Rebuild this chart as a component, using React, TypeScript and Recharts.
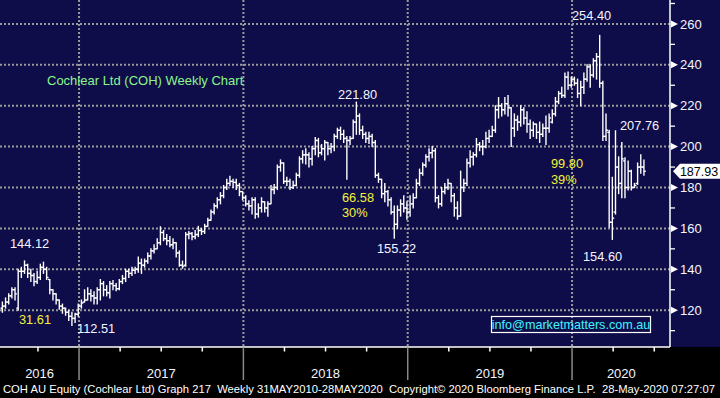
import React from 'react';
import { ComposedChart, Bar, XAxis, YAxis, CartesianGrid } from 'recharts';

// Weekly bars, first bar date (decimal year), one bar per week
const firstWeek = 2016.531;
const weeksPerYear = 52;

const opens = [
  121, 122, 124, 127, 130, 121, 139, 139, 142, 138,
  137, 134, 136, 141, 140, 135, 130, 128, 125, 122,
  121, 119, 117, 116, 118, 122, 124, 125, 128, 127,
  126, 130, 133, 130, 128.5, 133, 132, 130.5, 134, 135.5,
  139, 138, 139.5, 140, 143, 142, 144, 146.5, 149, 150,
  153, 158, 155, 154, 152, 153, 148, 142, 142, 157,
  157.5, 156, 157, 159, 158.5, 161, 164, 168, 171, 174,
  176, 180, 182, 183, 182.5, 181, 178, 175, 172, 171,
  174, 167, 170, 173, 170, 172, 179, 180, 190, 192,
  183, 183, 180, 181, 186, 194, 196, 196, 194, 199,
  203, 197, 199, 202, 199, 200, 205, 208, 206, 204,
  203, 204, 212, 215, 208, 206, 204, 205, 202, 186,
  184, 177, 178, 174, 168, 162, 169, 172, 170, 168,
  172, 175, 182, 187, 191, 195, 197, 198, 175, 172,
  178, 180, 182, 176, 170, 166, 180, 182, 192, 195,
  196, 201, 200, 200, 204, 205, 208, 218, 220, 218,
  221, 219, 209, 213, 212, 218, 214, 211, 208, 211,
  207, 206, 209, 209, 212, 216, 222, 226, 225, 234,
  230, 233, 231, 226, 229, 233, 239, 235, 242, 244,
  231, 205, 207, 163, 168, 190, 182, 193, 180, 188,
  180, 182, 190, 190,
];
const highs = [
  124, 126, 128, 131, 131, 140, 141, 144.12, 142.5, 140,
  138, 139, 142.5, 143.5, 141, 135, 130, 128, 125, 123,
  121, 120, 119, 118.5, 123, 125, 130, 131, 130, 129,
  131, 135, 134, 132, 134, 134.5, 133, 135, 137, 140,
  140, 141, 141, 146, 145, 145, 148, 150, 152, 155,
  160.8, 159, 157, 156, 155, 153, 149, 144, 158, 158.5,
  158, 159, 161, 160, 162, 165, 169, 172, 175, 177.5,
  181, 184, 185.5, 184, 184, 182, 178, 176, 173.5, 175,
  175, 172, 175, 173, 173, 181, 181.5, 191, 193.5, 192,
  185, 184, 183, 187, 195, 198, 199, 197, 200, 204.5,
  204, 201, 203, 202, 201.5, 206, 209, 209.5, 208, 205,
  205, 213, 221.8, 216, 210, 207, 207, 206, 203, 187,
  184, 182, 178.5, 175, 171, 171, 174, 176, 173, 176,
  177, 184, 189, 192, 196, 199, 200, 199, 176, 180,
  182, 184, 182, 177, 173, 188, 184, 194, 198, 197,
  204, 202, 203, 207, 208, 210, 220, 224, 221, 224,
  225, 219, 216, 215, 220, 219, 217, 213, 212, 211,
  212, 211, 215, 216, 218, 224, 227, 229, 236, 236.5,
  234, 234, 233, 232, 236, 240, 240, 243, 245.5, 254.4,
  232, 216, 208, 185, 207.76, 195, 202, 194.5, 193, 188.5,
  182, 192, 196, 193.5,
];
const lows = [
  119, 121, 123, 126, 125, 120, 136, 138, 136, 134,
  132, 133, 135, 138, 135, 128, 125, 123, 120.5, 118.5,
  117.5, 115, 112.51, 114, 117, 121, 124, 125, 124.5, 123,
  123, 125, 127, 127, 126, 130, 129.5, 130, 133, 134,
  136, 137, 138, 138.5, 138, 141, 143, 145, 148, 150,
  152, 154, 152, 151, 150, 146, 141.5, 140.5, 141.5, 155,
  154.5, 155, 156, 157, 157.5, 161, 164, 167, 170, 172,
  175, 179, 181, 180, 179, 176, 174, 171, 169, 167,
  165, 165.5, 168, 168, 166, 172, 177, 179, 188, 182,
  181, 179, 179.5, 181, 185, 192, 191.5, 190, 191, 196,
  195, 196, 193.5, 196, 197, 198, 204, 203.5, 202, 184,
  201, 204, 206, 206, 204, 202, 201.5, 200, 185, 182.5,
  175, 173, 171, 167, 155.22, 160, 166, 168, 164.5, 166,
  170, 175, 181, 186, 190, 193, 194.5, 173, 170, 171,
  177, 179, 173, 166, 164.5, 166, 178, 181, 190, 191,
  195, 198, 196, 199.5, 202, 205, 207, 214, 215, 216,
  215, 200, 205, 208, 210, 211, 207, 204, 205, 204,
  202, 205, 201, 207, 211.5, 215, 221, 224, 224, 228,
  229, 230, 224, 220, 226, 232, 229, 234, 233, 229,
  203, 203, 160.6, 154.6, 167, 177, 175, 175, 178.8, 178.8,
  180, 181.5, 187, 186,
];
const closes = [
  122, 124, 127, 130, 128, 139, 139, 142, 138, 137,
  134, 136, 141, 140, 136, 130, 128, 125, 122, 121,
  119, 117, 116, 118, 122, 123.5, 125, 128, 127, 126,
  130, 133, 130, 128.5, 133, 132, 130.5, 134, 135.5, 139,
  138, 139.5, 140, 143, 142, 144, 146.5, 149, 150, 153,
  158, 155, 154, 152, 153, 148, 142, 141.5, 157, 157.5,
  156, 157, 159, 158.5, 161, 164, 168, 171, 174, 176,
  180, 182, 183, 182.5, 181, 178, 175, 172, 171, 174,
  167, 170, 173, 170, 172, 179, 180, 190, 192, 183,
  183, 180, 181, 186, 194, 196, 196, 194, 199, 203,
  197, 199, 202, 199, 200, 205, 208, 206, 204, 203,
  204, 212, 215, 208, 206, 204, 205, 202, 186, 184,
  177, 178, 174, 168, 162, 169, 172, 170, 168, 172,
  175, 182, 187, 191, 195, 197, 198, 175, 172, 178,
  180, 182, 176, 170, 166, 180, 182, 192, 195, 196,
  201, 200, 200, 204, 205, 208, 218, 220, 218, 221,
  219, 209, 213, 212, 218, 214, 211, 208, 211, 207,
  206, 209, 209, 214, 216, 222, 226, 225, 234, 230,
  233, 231, 226, 229, 233, 239, 235, 242, 244, 231,
  205, 208, 163, 165, 190, 182, 194, 180, 188, 180,
  181, 190, 190, 187.93,
];

const xDomain = [2016.519, 2020.596];
const yDomain = [102, 271.7];
const yearStarts = [2017, 2018, 2019, 2020];
const quarterTicks = [
  2016.75, 2017, 2017.25, 2017.5, 2017.75, 2018, 2018.25, 2018.5, 2018.75,
  2019, 2019.25, 2019.5, 2019.75, 2020, 2020.25, 2020.5,
];
const yearLabels = ['2016', '2017', '2018', '2019', '2020'];
const yearLabelAt = [2016.76, 2017.5, 2018.5, 2019.5, 2020.3];
const priceGrid = [120, 140, 160, 180, 200, 220, 240, 260];
const priceTicks = [110, 120, 130, 140, 150, 160, 170, 180, 190, 200, 210, 220, 230, 240, 250, 260, 270];
const lastPrice = 187.93;

const data = closes.map((c, i) => ({
  t: firstWeek + i / weeksPerYear,
  o: opens[i],
  h: highs[i],
  l: lows[i],
  c,
}));

const xTicks = Array.from(new Set([...quarterTicks, ...yearLabelAt])).sort((a, b) => a - b);

const FONT = '"Liberation Sans", Arial, sans-serif';
const WHITE = '#f4f6ff';
const YELLOW = '#f2f23a';

const OhlcShape = (props: any) => {
  const { x, y, width, height, payload } = props;
  if (!payload) return null;
  const { o, h, l, c } = payload;
  const cx = x + width / 2;
  const top = Math.min(y, y + height);
  const span = Math.abs(height);
  const k = h - l > 0 ? span / (h - l) : 0;
  const yo = top + (h - o) * k;
  const yc = top + (h - c) * k;
  return (
    <g stroke="#ffffff" strokeWidth={1.4}>
      <line x1={cx} x2={cx} y1={top - 0.5} y2={top + span + 0.5} />
      <line x1={cx - 1.9} x2={cx} y1={yo} y2={yo} />
      <line x1={cx} x2={cx + 1.9} y1={yc} y2={yc} />
    </g>
  );
};

const XTick = (props: any) => {
  const { x, y, payload } = props;
  const v = payload.value;
  const li = yearLabelAt.indexOf(v);
  const isStart = yearStarts.includes(v);
  const isQuarter = quarterTicks.includes(v);
  return (
    <g>
      {isStart ? (
        <line x1={x} x2={x} y1={y} y2={y + 33} stroke="#8a8a8a" strokeWidth={1.5} />
      ) : isQuarter ? (
        <line x1={x} x2={x} y1={y} y2={y + 4.5} stroke="#ffffff" strokeWidth={1.5} />
      ) : null}
      {li >= 0 ? (
        <text x={x} y={y + 31} textAnchor="middle" fill={WHITE} fontSize={13} fontFamily={FONT}>
          {yearLabels[li]}
        </text>
      ) : null}
    </g>
  );
};

const YTick = (props: any) => {
  const { x, y, payload } = props;
  const v = payload.value;
  if (v === lastPrice) {
    return (
      <g>
        <polygon
          points={`${x + 3},${y} ${x + 10},${y - 7.5} ${x + 50},${y - 7.5} ${x + 50},${y + 7.5} ${x + 10},${y + 7.5}`}
          fill="#ffffff"
        />
        <text x={x + 29} y={y + 4.5} textAnchor="middle" fill="#000000" fontSize={12.5} fontFamily={FONT}>
          {v.toFixed(2)}
        </text>
      </g>
    );
  }
  if (v % 20 === 0) {
    return (
      <g>
        <polygon points={`${x + 1},${y - 3.5} ${x + 8},${y} ${x + 1},${y + 3.5}`} fill="#ffffff" />
        <text x={x + 10} y={y + 4.6} fill={WHITE} fontSize={13} fontFamily={FONT}>
          {v}
        </text>
      </g>
    );
  }
  return <line x1={x} x2={x + 5} y1={y} y2={y} stroke="#ffffff" strokeWidth={1.3} />;
};

const notes = [
  { text: '144.12', x: 10, y: 247.5, color: WHITE },
  { text: '31.61', x: 19, y: 324, color: YELLOW },
  { text: '112.51', x: 77, y: 333, color: WHITE },
  { text: '221.80', x: 338, y: 99, color: WHITE },
  { text: '66.58', x: 342, y: 201.5, color: YELLOW },
  { text: '30%', x: 342, y: 217, color: YELLOW },
  { text: '155.22', x: 377, y: 252.5, color: WHITE },
  { text: '254.40', x: 572, y: 19.5, color: WHITE },
  { text: '207.76', x: 620, y: 129.5, color: WHITE },
  { text: '99.80', x: 551, y: 168, color: YELLOW },
  { text: '39%', x: 551, y: 184, color: YELLOW },
  { text: '154.60', x: 583, y: 261, color: WHITE },
];

export default function App() {
  return (
    <div style={{ position: 'absolute', left: 0, top: 0, width: 720, height: 398, background: '#000000', overflow: 'hidden' }}>
      <div style={{ position: 'absolute', left: 0, top: 0, width: 720, height: 347, background: '#0f0d49' }} />
      <div style={{ position: 'absolute', left: 0, top: 0 }}>
        <ComposedChart width={720} height={398} data={data} margin={{ top: 0, right: 0, bottom: 0, left: 0 }}>
          <CartesianGrid
            horizontalValues={priceGrid}
            verticalValues={yearStarts}
            stroke="#9a9a9a"
            strokeWidth={2}
            strokeDasharray="2 2"
          />
          <XAxis
            type="number"
            dataKey="t"
            domain={xDomain}
            allowDataOverflow
            ticks={xTicks}
            interval={0}
            tick={<XTick />}
            tickLine={false}
            tickSize={0}
            tickMargin={0}
            height={51}
            axisLine={{ stroke: '#ffffff', strokeWidth: 1.5 }}
          />
          <YAxis
            orientation="right"
            type="number"
            domain={yDomain}
            allowDataOverflow
            ticks={[...priceTicks, lastPrice]}
            interval={0}
            tick={<YTick />}
            tickLine={false}
            tickSize={0}
            tickMargin={0}
            width={50}
            axisLine={{ stroke: '#ffffff', strokeWidth: 1.5 }}
          />
          <Bar
            dataKey={(d: any) => [d.l, d.h]}
            barSize={2}
            shape={<OhlcShape />}
            isAnimationActive={false}
          />
        </ComposedChart>
      </div>
      <svg width={720} height={398} style={{ position: 'absolute', left: 0, top: 0, pointerEvents: 'none' }}>
        <text x={47} y={85} fill="#8cf58c" fontSize={13} fontFamily={FONT}>
          Cochlear Ltd (COH) Weekly Chart
        </text>
        {notes.map((n) => (
          <text key={n.text + n.x} x={n.x} y={n.y} fill={n.color} fontSize={12.8} fontFamily={FONT}>
            {n.text}
          </text>
        ))}
        <rect x={491.5} y={316.5} width={159} height={16} fill="none" stroke="#ffffff" strokeWidth={1.2} />
        <text x={571} y={329} textAnchor="middle" fill="#3ff4ff" fontSize={12.6} fontFamily={FONT}>
          info@marketmatters.com.au
        </text>
        <text
          x={3}
          y={393}
          fill="#ffffff"
          fontSize={11}
          fontFamily={FONT}
          textLength={712}
          lengthAdjust="spacingAndGlyphs"
          style={{ whiteSpace: 'pre' }}
        >
          {'COH AU Equity (Cochlear Ltd) Graph 217  Weekly 31MAY2010-28MAY2020  Copyright\u00a9 2020 Bloomberg Finance L.P.  28-May-2020 07:27:07'}
        </text>
      </svg>
    </div>
  );
}
